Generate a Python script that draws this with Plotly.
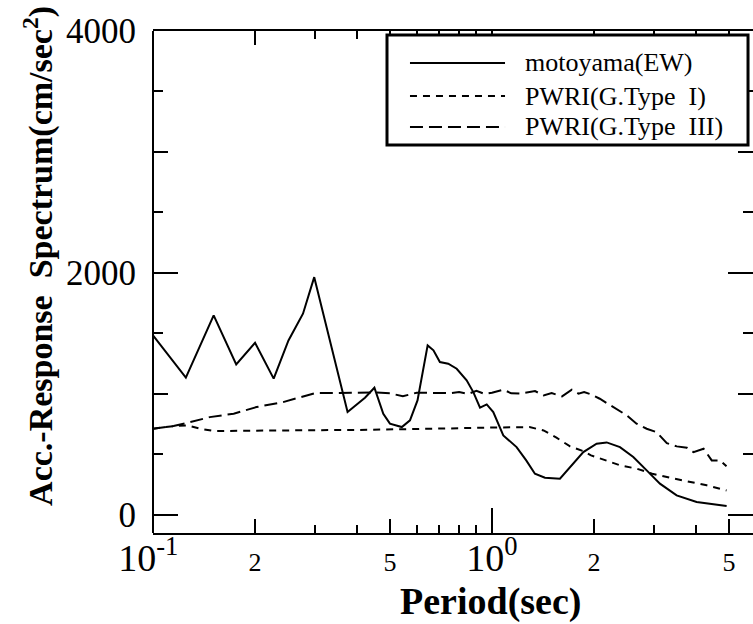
import numpy as np
import plotly.graph_objects as go

# Acceleration response spectra (period in sec, acceleration in cm/sec^2)
motoyama_T = [0.100, 0.125, 0.151, 0.176, 0.200, 0.227, 0.251, 0.277, 0.299, 0.375,
              0.422, 0.450, 0.478, 0.500, 0.542, 0.573, 0.603, 0.646, 0.672, 0.702,
              0.743, 0.787, 0.842, 0.881, 0.922, 0.965, 1.009, 1.080, 1.182, 1.262,
              1.339, 1.433, 1.587, 1.699, 1.860, 2.036, 2.180, 2.386, 2.612, 2.861,
              3.130, 3.506, 4.016, 4.924]
motoyama_A = [1483, 1134, 1649, 1244, 1423, 1126, 1442, 1663, 1965, 850,
              968, 1051, 836, 754, 726, 781, 946, 1401, 1360, 1263,
              1250, 1208, 1112, 1015, 886, 913, 850, 657, 560, 450,
              340, 307, 299, 395, 519, 588, 599, 560, 478, 368,
              258, 161, 106, 73]

pwri1_T = [0.100, 0.115, 0.126, 0.138, 0.151, 0.20, 0.30, 0.40, 0.50, 0.60,
           0.70, 0.80, 0.90, 1.00, 1.10, 1.20, 1.29, 1.42, 1.55, 1.70,
           1.86, 1.96, 2.18, 2.39, 2.67, 2.97, 3.35, 3.76, 4.30, 4.92]
pwri1_A = [712, 734, 740, 712, 693, 698, 700, 702, 705, 708,
           712, 716, 720, 722, 724, 725, 726, 698, 638, 566,
           527, 492, 450, 409, 382, 340, 307, 279, 244, 202]

pwri3_T = [0.100, 0.115, 0.129, 0.147, 0.173, 0.202, 0.242, 0.271, 0.301, 0.349,
           0.40, 0.45, 0.50, 0.546, 0.60, 0.65, 0.70, 0.75, 0.80, 0.85,
           0.90, 0.95, 1.00, 1.08, 1.14, 1.21, 1.34, 1.42, 1.50, 1.61,
           1.72, 1.80, 1.87, 1.96, 2.08, 2.18, 2.33, 2.50, 2.67, 2.86,
           3.06, 3.28, 3.51, 3.76, 3.93, 4.21, 4.45, 4.71, 4.92]
pwri3_A = [712, 734, 767, 808, 836, 891, 932, 974, 1007, 1007,
           1010, 1012, 1005, 980, 1010, 1008, 1012, 1006, 1015, 1000,
           1025, 1000, 1010, 1035, 1005, 1002, 1023, 988, 1007, 979,
           1035, 1002, 1015, 996, 960, 924, 878, 822, 754, 712,
           684, 593, 566, 555, 519, 547, 450, 450, 401]

series_names = ["motoyama(EW)", "PWRI(G.Type\u00a0\u00a0I)", "PWRI(G.Type\u00a0\u00a0III)"]
series_dash = ["solid", "7px,6px", "13px,6px"]

x_tickvals = [0.1, 0.2, 0.5, 1, 2, 5]
x_ticktext = ["10<sup>-1</sup>\u00a0",
              "<span style='font-size:26px'>2</span>",
              "<span style='font-size:26px'>5</span>",
              "10<sup>0</sup>",
              "<span style='font-size:26px'>2</span>",
              "<span style='font-size:26px'>5</span>"]
x_minor = [0.3, 0.4, 0.6, 0.7, 0.8, 0.9, 3, 4]
x_decades = [0.1, 1]

y_tickvals = [0, 2000, 4000]
y_ticktext = ["0", "2000", "4000"]
y_mid = [1000, 3000]
y_minor = [500, 1500, 2500, 3500]

x_range = [-1, np.log10(5.89)]
y_range = [-150, 4000]

FONT = "Liberation Serif"

fig = go.Figure()
for T, A, dash in zip([motoyama_T, pwri1_T, pwri3_T],
                      [motoyama_A, pwri1_A, pwri3_A], series_dash):
    fig.add_trace(go.Scatter(x=T, y=A, mode="lines",
                             line=dict(color="black", width=2, dash=dash),
                             showlegend=False))

# carrier trace for the overlay axes holding the extra tick levels
fig.add_trace(go.Scatter(x=[None], y=[None], xaxis="x2", yaxis="y2",
                         showlegend=False, hoverinfo="skip"))

fig.update_layout(
    width=753, height=624,
    margin=dict(l=153, r=0, t=31, b=91),
    paper_bgcolor="white", plot_bgcolor="white",
    font=dict(family=FONT, color="black"),
    xaxis=dict(type="log", range=x_range, showgrid=False, zeroline=False,
               showline=True, linecolor="black", linewidth=2, mirror="ticks",
               ticks="inside", ticklen=14, tickwidth=1.5, tickcolor="black",
               tickmode="array", tickvals=x_tickvals, ticktext=x_ticktext,
               ticklabelstandoff=-10,
               tickfont=dict(family=FONT, size=38, color="black"),
               minor=dict(tickmode="array", tickvals=x_minor, ticks="inside",
                          ticklen=8, tickwidth=1.5, tickcolor="black")),
    xaxis2=dict(type="log", range=x_range, overlaying="x", anchor="y", side="bottom",
                showgrid=False, zeroline=False, showline=False, mirror="ticks",
                ticks="inside", ticklen=25, tickwidth=1.5, tickcolor="black",
                tickmode="array", tickvals=x_decades, showticklabels=False),
    yaxis=dict(range=y_range, showgrid=False, zeroline=False, showline=False,
               mirror="ticks", ticks="inside", ticklen=25, tickwidth=1.5,
               tickcolor="black", tickmode="array", tickvals=y_tickvals,
               ticktext=y_ticktext, ticklabelstandoff=16,
               tickfont=dict(family=FONT, size=35, color="black")),
    yaxis2=dict(range=y_range, overlaying="y", anchor="x", side="left",
                showgrid=False, zeroline=False, showline=False, mirror="ticks",
                ticks="inside", ticklen=15, tickwidth=1.5, tickcolor="black",
                tickmode="array", tickvals=y_mid, showticklabels=False,
                minor=dict(tickmode="array", tickvals=y_minor, ticks="inside",
                           ticklen=10, tickwidth=1.5, tickcolor="black")),
)

# left frame line
fig.add_shape(type="line", xref="paper", yref="paper", x0=0, x1=0, y0=0, y1=1,
              line=dict(color="black", width=2))

# axis titles
fig.add_annotation(text="<b>Acc.-Response\u00a0\u00a0Spectrum(cm/sec<sup>2</sup>)</b>",
                   xref="paper", yref="paper", x=-0.19, y=0.552, textangle=-90,
                   showarrow=False, font=dict(family=FONT, size=34, color="black"),
                   xanchor="center", yanchor="middle")
fig.add_annotation(text="<b>Period(sec)</b>", xref="paper", yref="paper",
                   x=0.562, y=-0.137, showarrow=False,
                   font=dict(family=FONT, size=38, color="black"),
                   xanchor="center", yanchor="middle")

# legend box with line samples
leg_x0, leg_x1, leg_y0, leg_y1 = 0.39, 0.9917, 0.773, 0.992
fig.add_shape(type="rect", xref="paper", yref="paper",
              x0=leg_x0, x1=leg_x1, y0=leg_y0, y1=leg_y1,
              line=dict(color="black", width=3), fillcolor="white", layer="above")
row_y = [0.9363, 0.8705, 0.8088]
for name, dash, yy in zip(series_names, series_dash, row_y):
    fig.add_shape(type="line", xref="paper", yref="paper",
                  x0=0.4283, x1=0.5867, y0=yy, y1=yy, layer="above",
                  line=dict(color="black", width=2, dash=dash))
    fig.add_annotation(text=name, xref="paper", yref="paper", x=0.6167, y=yy,
                       xanchor="left", yanchor="middle", showarrow=False,
                       font=dict(family=FONT, size=26, color="black"))

fig.write_html("out.html")
